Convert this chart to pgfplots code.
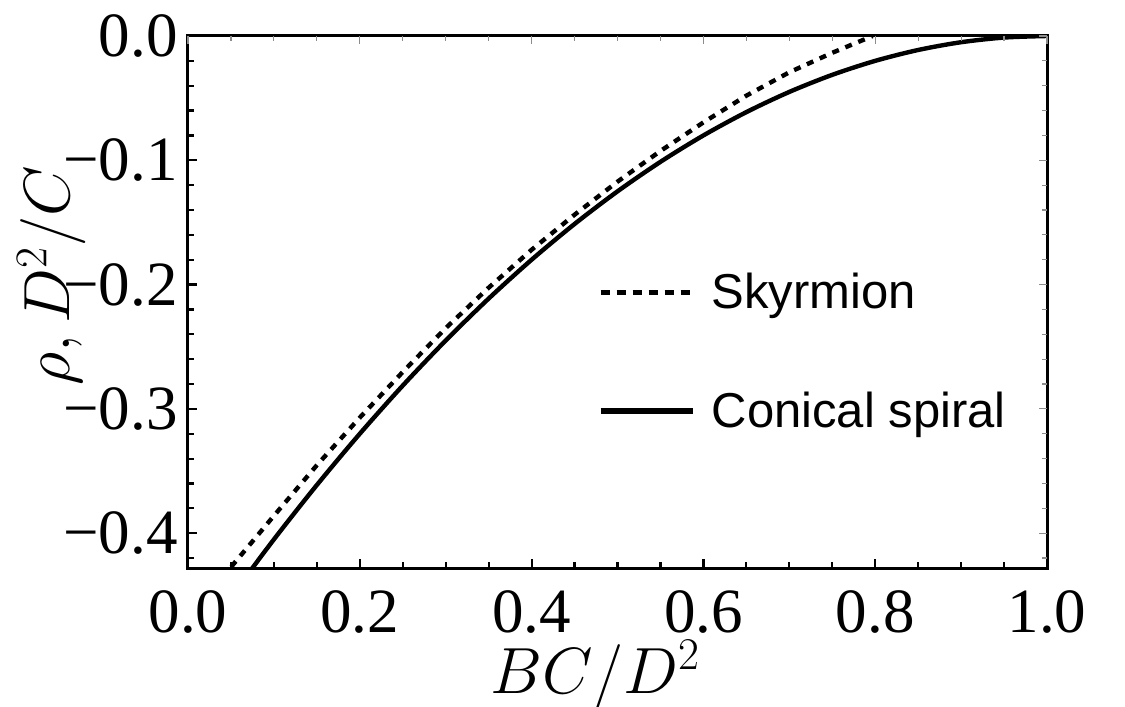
\documentclass[border=0pt]{standalone}
\usepackage{fontspec}
\setmainfont{Liberation Serif}
\newfontfamily\arial{Liberation Sans}
\usepackage{pgfplots}
\pgfplotsset{compat=1.18}

\begin{document}
\begin{tikzpicture}
\begin{axis}[
  name=main,
  scale only axis, width=429.5pt, height=266pt,
  xmin=0, xmax=1, ymin=-0.428, ymax=0,
  axis line style={line width=1.5pt},
  xtick={0,0.2,0.4,0.6,0.8,1}, xticklabels={0.0,0.2,0.4,0.6,0.8,1.0},
  ytick={-0.4,-0.3,-0.2,-0.1,0}, yticklabels={−0.4,−0.3,−0.2,−0.1,0.0},
  minor xtick={0.05,0.1,0.15,0.25,0.3,0.35,0.45,0.5,0.55,0.65,0.7,0.75,0.85,0.9,0.95},
  minor ytick={-0.42,-0.38,-0.36,-0.34,-0.32,-0.28,-0.26,-0.24,-0.22,-0.18,-0.16,-0.14,-0.12,-0.08,-0.06,-0.04,-0.02},
  tick align=inside,
  xtick pos=left, ytick pos=left,
  major tick length=4.5pt, minor tick length=2.8pt,
  every tick/.style={black, line width=1.1pt},
  ticklabel style={font=\fontsize{31.5}{36}\selectfont},
  xticklabel style={inner sep=0pt, anchor=north, yshift=-11pt},
  yticklabel style={inner sep=0pt, anchor=east, xshift=-5pt},
  xlabel={\scalebox{1.3125}{$BC/D^2$}},
  xlabel style={at={(rel axis cs:0.4744,-0.235)}, anchor=base, inner sep=0pt, font=\fontsize{24}{28}\selectfont},
  ylabel={\scalebox{1.3125}{$\rho, D^2/C$}},
  ylabel style={at={(rel axis cs:-0.1374,0.549)}, anchor=base, inner sep=0pt, font=\fontsize{24}{28}\selectfont},
  legend style={at={(axis cs:0.477,-0.1875)}, anchor=north west, draw=none, fill=none,
    inner sep=0pt, outer sep=0pt, row sep=36pt, column sep=6pt,
    font=\arial\fontsize{24.5}{28}\selectfont},
  legend cell align=left,
  legend image code/.code={\draw[#1] (0pt,0pt) -- (46pt,0pt);},
]
\addplot[forget plot, black, line width=2.2pt, dash pattern=on 3.5pt off 3.5pt] coordinates {
(0.03,-0.4445) (0.05,-0.4273) (0.10,-0.3860) (0.15,-0.3453) (0.20,-0.3070)
(0.25,-0.2703) (0.30,-0.2350) (0.35,-0.2025) (0.40,-0.1720) (0.45,-0.1438)
(0.50,-0.1172) (0.55,-0.0925) (0.60,-0.0695) (0.65,-0.0480) (0.70,-0.0292)
(0.75,-0.0135) (0.797,0.0)
};
\addplot[forget plot, black, line width=2.2pt, smooth] coordinates {
(0.05,-0.45125) (0.10,-0.40500) (0.15,-0.36125) (0.20,-0.32000) (0.25,-0.28125)
(0.30,-0.24500) (0.35,-0.21125) (0.40,-0.18000) (0.45,-0.15125) (0.50,-0.12500)
(0.55,-0.10125) (0.60,-0.08000) (0.65,-0.06125) (0.70,-0.04500) (0.75,-0.03125)
(0.80,-0.02000) (0.85,-0.01125) (0.90,-0.00500) (0.95,-0.00125) (1.00,0.0)
};
\addlegendimage{black, line width=2.6pt, dash pattern=on 4.5pt off 3.5pt}
\addlegendentry{Skyrmion}
\addlegendimage{black, line width=3pt}
\addlegendentry{Conical spiral}
\end{axis}
\begin{axis}[
  scale only axis, width=429.5pt, height=266pt,
  xmin=0, xmax=1, ymin=-0.428, ymax=0,
  axis line style={draw=none},
  xtick={0,0.2,0.4,0.6,0.8,1}, xticklabels={},
  ytick={-0.4,-0.3,-0.2,-0.1,0}, yticklabels={},
  minor xtick={0.05,0.1,0.15,0.25,0.3,0.35,0.45,0.5,0.55,0.65,0.7,0.75,0.85,0.9,0.95},
  minor ytick={-0.42,-0.38,-0.36,-0.34,-0.32,-0.28,-0.26,-0.24,-0.22,-0.18,-0.16,-0.14,-0.12,-0.08,-0.06,-0.04,-0.02},
  tick align=inside,
  xtick pos=right, ytick pos=right,
  major tick length=4pt, minor tick length=2.5pt,
  every tick/.style={black!45, line width=0.6pt},
]
\end{axis}
\pgfresetboundingbox
\path (main.south west) ++(-94pt,-69.5pt) rectangle ++(562.5pt,353.5pt);
\end{tikzpicture}
\end{document}
